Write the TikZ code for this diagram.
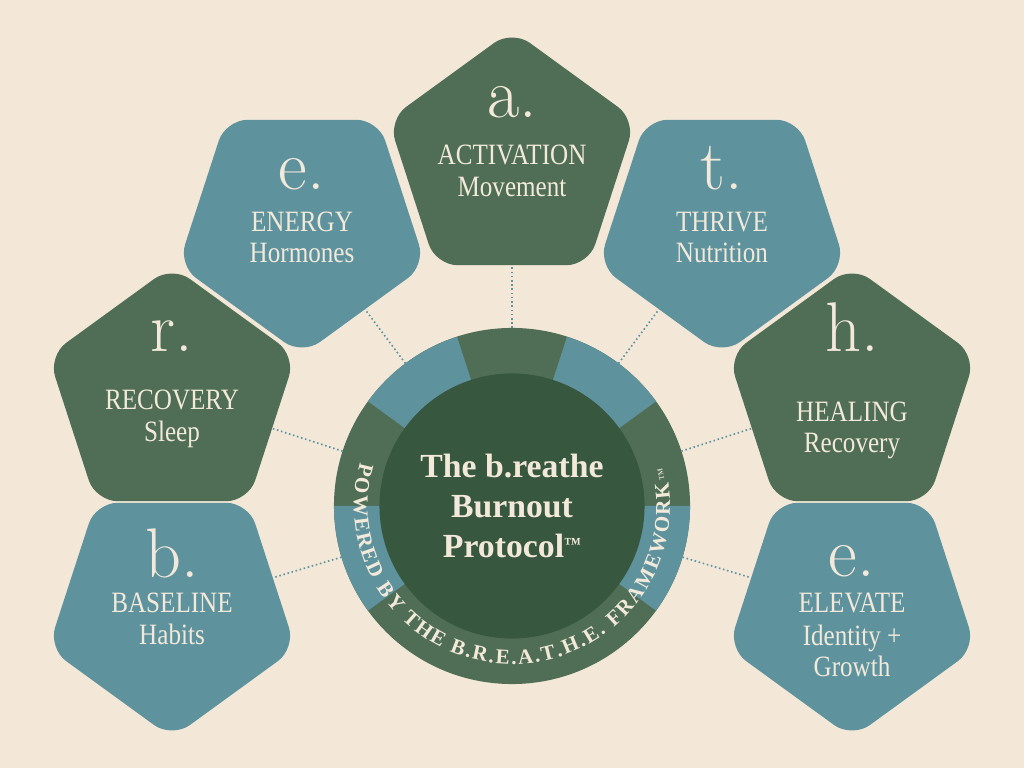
\documentclass[tikz,border=0pt]{standalone}
\usepackage{fontspec}
\usepackage{tikz}
\usetikzlibrary{shapes.geometric,decorations.text}
\newfontfamily\labelfont[FakeStretch=0.85]{Liberation Serif}
\newfontfamily\corefont{Liberation Serif}
\newcommand{\smalltm}{{\fontsize{12}{12}\selectfont\raisebox{6pt}{™}}}

\definecolor{cream}{HTML}{F3E8D8}
\definecolor{sage}{HTML}{4F6E55}
\definecolor{tealc}{HTML}{5E939E}
\definecolor{forest}{HTML}{38573F}
\definecolor{ink}{HTML}{F2E9DA}

\begin{document}
\begin{tikzpicture}[x=0.025cm,y=0.025cm,
    pent/.style={regular polygon,regular polygon sides=5,minimum size=6.5cm,
      inner sep=0pt,outer sep=0pt,rounded corners=0.55cm},
    pentup/.style={pent,fill=sage},
    pentdn/.style={pent,fill=tealc,shape border rotate=180},
    letter/.style={anchor=base,text=ink,inner sep=0pt,font=\fontsize{50}{50}\selectfont},
    head/.style={anchor=base,text=ink,inner sep=0pt,font=\labelfont\fontsize{21}{23}\selectfont},
    conn/.style={draw=tealc,line width=1.2pt,dash pattern=on 1.1pt off 1.9pt}]

      \fill[cream] (0,0) rectangle (1024,768);

      % hub with coloured ring
      \node[circle,fill=sage,minimum size=8.9cm,inner sep=0pt,outer sep=0pt] (hub) at (512,262) {};
      \foreach \a in {36,108,180,324}
        \fill[tealc] (hub.center) -- ([shift={(\a:178)}]hub.center)
          arc[start angle=\a,delta angle=36,radius=178] -- cycle;
      \node[circle,fill=forest,minimum size=6.625cm,inner sep=0pt,align=center,
        text=ink,font=\corefont\bfseries\fontsize{24}{28.5}\selectfont]
        (core) at (hub.center) {The b.reathe\\Burnout\\Protocol\smalltm};
      \path[decorate,decoration={text along path,text align={fit to path},text color=ink,
        text={|\corefont\bfseries\fontsize{15}{16}\selectfont|POWERED BY THE B.R.E.A.T.H.E. FRAMEWORK|\corefont\fontsize{9}{9}\selectfont|™}}]
        ([shift={(164:158)}]hub.center) arc[start angle=164,end angle=374,radius=158];

      % pentagons
      \node[pentup] (act)  at (512,608) {};
      \node[pentdn] (nrg)  at (302,543) {};
      \node[pentdn] (thr)  at (722,543) {};
      \node[pentup] (rec)  at (172,372) {};
      \node[pentup] (heal) at (852,372) {};
      \node[pentdn] (base) at (172,160) {};
      \node[pentdn] (elev) at (852,160) {};

      \node[letter] (act-l)  at (512,650) {a.};
      \node[head]   (act-t)  at (512,603) {ACTIVATION};
      \node[head]   (act-s)  at (512,571) {Movement};

      \node[letter] (nrg-l)  at (302,578) {e.};
      \node[head]   (nrg-t)  at (302,536) {ENERGY};
      \node[head]   (nrg-s)  at (302,505) {Hormones};

      \node[letter] (thr-l)  at (722,578) {t.};
      \node[head]   (thr-t)  at (722,536) {THRIVE};
      \node[head]   (thr-s)  at (722,505) {Nutrition};

      \node[letter] (rec-l)  at (172,416) {r.};
      \node[head]   (rec-t)  at (172,358) {RECOVERY};
      \node[head]   (rec-s)  at (172,326) {Sleep};

      \node[letter] (heal-l) at (852,416) {h.};
      \node[head]   (heal-t) at (852,346) {HEALING};
      \node[head]   (heal-s) at (852,315) {Recovery};

      \node[letter] (base-l) at (172,190) {b.};
      \node[head]   (base-t) at (172,155) {BASELINE};
      \node[head]   (base-s) at (172,123) {Habits};

      \node[letter] (elev-l) at (852,191) {e.};
      \node[head]   (elev-t) at (852,155) {ELEVATE};
      \node[head]   (elev-s) at (852,122) {Identity +};
      \node[head]   (elev-u) at (852,91)  {Growth};

      % dotted spokes
      \path
      (hub) edge[conn] (act)
      (hub) edge[conn] (nrg)
      (hub) edge[conn] (thr)
      (hub) edge[conn] (rec)
      (hub) edge[conn] (heal)
      (hub) edge[conn] (base)
      (hub) edge[conn] (elev)
      ;
\end{tikzpicture}
\end{document}
